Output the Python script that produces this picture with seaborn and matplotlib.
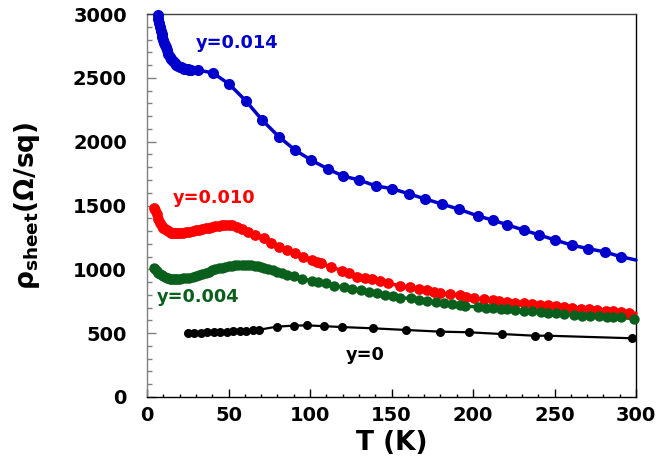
import numpy as np
import pandas as pd
import matplotlib
matplotlib.use("Agg")
import matplotlib.pyplot as plt
from matplotlib.ticker import MultipleLocator
import seaborn as sns

# ---------------- data ----------------
blue_T = [6.5, 7, 7.5, 8, 8.5, 9, 9.5, 10, 10.5, 11, 11.5, 12, 13, 14, 15, 16, 17, 18, 19, 20,
          21, 22, 23, 24, 25, 26, 27, 31.3, 40.5, 50.3, 60.7, 70.6, 81, 90.8, 100.6, 111, 120.2,
          130, 140.5, 150.3, 161, 170.7, 180.8, 191.6, 203, 212.5, 220.7, 231, 240.7, 250.3,
          260.5, 270.7, 281, 290.6]
blue_R = [2990, 2960, 2930, 2900, 2870, 2845, 2820, 2795, 2775, 2755, 2738, 2720, 2690, 2665,
          2645, 2628, 2614, 2603, 2595, 2588, 2582, 2577, 2573, 2570, 2567, 2565, 2563, 2561,
          2538, 2452, 2319, 2170, 2037, 1935, 1856, 1786, 1731, 1700, 1653, 1632, 1590, 1551,
          1512, 1470, 1418, 1384, 1350, 1308, 1269, 1230, 1190, 1162, 1136, 1099]
blue_end = (300, 1073)

red_T = [4.5, 5, 6, 7, 8, 9, 10, 11, 12, 13, 14, 15, 16, 17, 18, 19, 20, 22, 24, 26, 28, 30, 32,
         34, 36, 38, 40, 42, 44, 46, 48, 50, 52, 55, 58, 62, 66, 71.5, 76, 80.7, 86, 91, 96, 101,
         104, 107, 113, 119.6, 124, 129, 134, 138, 143, 148, 155, 161.6, 167, 172, 176, 180, 186,
         192, 196, 200.5, 207, 212, 216, 221, 226, 231, 236, 241, 246, 251, 256, 261, 266, 271,
         276, 281.5, 286, 291, 296]
red_R = [1480, 1465, 1430, 1395, 1365, 1343, 1327, 1315, 1305, 1298, 1292, 1288, 1286, 1285, 1284,
         1284, 1285, 1287, 1290, 1295, 1300, 1306, 1311, 1316, 1321, 1326, 1331, 1336, 1341, 1345,
         1348, 1348, 1345, 1334, 1318, 1295, 1272, 1243, 1210, 1177, 1150, 1125, 1098, 1073, 1060,
         1047, 1018, 989, 970, 942, 932, 922, 906, 890, 872, 859, 847, 838, 825, 812, 806, 799, 786,
         773, 766, 760, 752, 746, 740, 733, 727, 721, 717, 713, 704, 695, 691, 687, 681, 676, 672,
         668, 660]
red_end = (300, 655)

green_T = [4.5, 5, 6, 7, 8, 9, 10, 11, 12, 13, 14, 15, 16, 17, 18, 19, 20, 22, 24, 26, 28, 30, 32,
           34, 36, 38, 40, 42, 44, 46, 48, 50, 52, 54, 56, 58, 60, 62, 64, 66, 68, 70, 72, 74, 77,
           80, 83, 86, 90, 95, 101, 105, 110, 115, 121, 126, 131, 136, 141, 146, 151, 155, 162,
           167, 172, 177, 182, 187, 192, 195, 203, 208, 212, 217, 221, 226, 231, 236, 242, 246,
           251, 256, 262, 267, 272, 277, 282, 286, 291, 299]
green_R = [1008, 1000, 985, 972, 962, 954, 946, 940, 935, 931, 928, 926, 925, 924, 924, 925, 926,
           929, 932, 935, 940, 948, 956, 964, 973, 982, 991, 999, 1007, 1014, 1020, 1025, 1029,
           1032, 1034, 1035, 1035, 1034, 1032, 1029, 1024, 1018, 1012, 1006, 995, 982, 970, 959,
           944, 927, 911, 900, 890, 873, 859, 848, 838, 824, 812, 800, 791, 776, 773, 763, 754,
           743, 733, 727, 721, 710, 707, 701, 695, 691, 687, 681, 676, 672, 668, 661, 655, 648,
           642, 638, 634, 631, 629, 627, 624, 611]

black_T = [25, 29, 33, 37, 41, 45, 49, 53, 57, 61, 65, 69, 79.6, 90, 98, 108.5, 119.5, 138.5,
           159, 179.6, 197.5, 218, 237.8, 246, 297.8]
black_R = [499, 501, 503, 506, 508, 511, 513, 516, 518, 520, 523, 527, 551, 559, 561, 555, 548,
           538, 525, 512, 507, 493, 480, 480, 460]

labels = ["y=0.014", "y=0.010", "y=0.004", "y=0"]
x_ticks = [0, 50, 100, 150, 200, 250, 300]
y_ticks = [0, 500, 1000, 1500, 2000, 2500, 3000]

# ---------------- style ----------------
sns.set_style("ticks")
plt.rcParams["font.family"] = ["DejaVu Sans"]
plt.rcParams["font.weight"] = "bold"
plt.rcParams["mathtext.fontset"] = "dejavusans"
plt.rcParams["text.color"] = "black"
plt.rcParams["axes.labelcolor"] = "black"
plt.rcParams["xtick.labelcolor"] = "black"
plt.rcParams["ytick.labelcolor"] = "black"

BLUE = "#0000CC"
RED = "#FF0000"
GREEN = "#0A5F1C"
BLACK = "#000000"

fig = plt.figure(figsize=(6.57, 4.71), dpi=100)
ax = fig.add_axes([147 / 657, 74 / 471, 489 / 657, 383 / 471])

series = [
    (blue_T, blue_R, blue_end, BLUE, 2.5, 64),
    (red_T, red_R, red_end, RED, 2.5, 60),
    (green_T, green_R, None, GREEN, 2.5, 56),
    (black_T, black_R, None, BLACK, 1.6, 42),
]
for T, R, end, col, lw, ms in series:
    lt = list(T) + ([end[0]] if end else [])
    lr = list(R) + ([end[1]] if end else [])
    sns.lineplot(x=lt, y=lr, ax=ax, color=col, linewidth=lw, estimator=None,
                 sort=True, clip_on=False, zorder=3)
    sns.scatterplot(x=T, y=R, ax=ax, color=col, s=ms, linewidth=0, clip_on=False,
                    zorder=4)

ax.set_xlim(0, 300)
ax.set_ylim(0, 3000)
ax.set_xticks(x_ticks)
ax.set_yticks(y_ticks)
ax.xaxis.set_minor_locator(MultipleLocator(10))
ax.yaxis.set_minor_locator(MultipleLocator(100))

ax.tick_params(axis="y", which="major", direction="in", length=6.5, width=1.0,
               color="#808080", labelcolor="black", labelsize=14, pad=14.5, right=False)
ax.tick_params(axis="y", which="minor", direction="in", length=3.6, width=1.0,
               color="#808080", right=False)
ax.tick_params(axis="x", which="major", direction="in", length=5.5, width=1.0,
               color="black", labelcolor="black", labelsize=14, pad=6.5, top=False)
ax.tick_params(axis="x", which="minor", direction="in", length=2.4, width=1.0,
               color="black", top=False)
for lab in ax.get_xticklabels() + ax.get_yticklabels():
    lab.set_fontweight("bold")

for side in ["top", "right", "bottom", "left"]:
    ax.spines[side].set_visible(True)
    ax.spines[side].set_linewidth(1.0)
ax.spines["left"].set_color("#808080")
ax.spines["top"].set_color("#404040")
ax.spines["right"].set_color("black")
ax.spines["bottom"].set_color("black")

ax.set_xlabel("T (K)", fontsize=19, fontweight="bold", color="black")
ax.set_ylabel(r"$\mathbf{\rho}_{\mathbf{sheet}}$(Ω/sq)", fontsize=19, fontweight="bold",
              color="black")
ax.xaxis.set_label_coords(0.5, -0.086)
ax.yaxis.set_label_coords(-0.215, 0.5)

text_pos = [(55.2, 2734, BLUE), (41.4, 1520, RED), (31.6, 744, GREEN), (134, 290, BLACK)]
for lab, (tx, ty, col) in zip(labels, text_pos):
    ax.text(tx, ty, lab, color=col, fontsize=12.8, fontweight="bold",
            ha="center", va="baseline")

fig.savefig("out.png", dpi=100)
